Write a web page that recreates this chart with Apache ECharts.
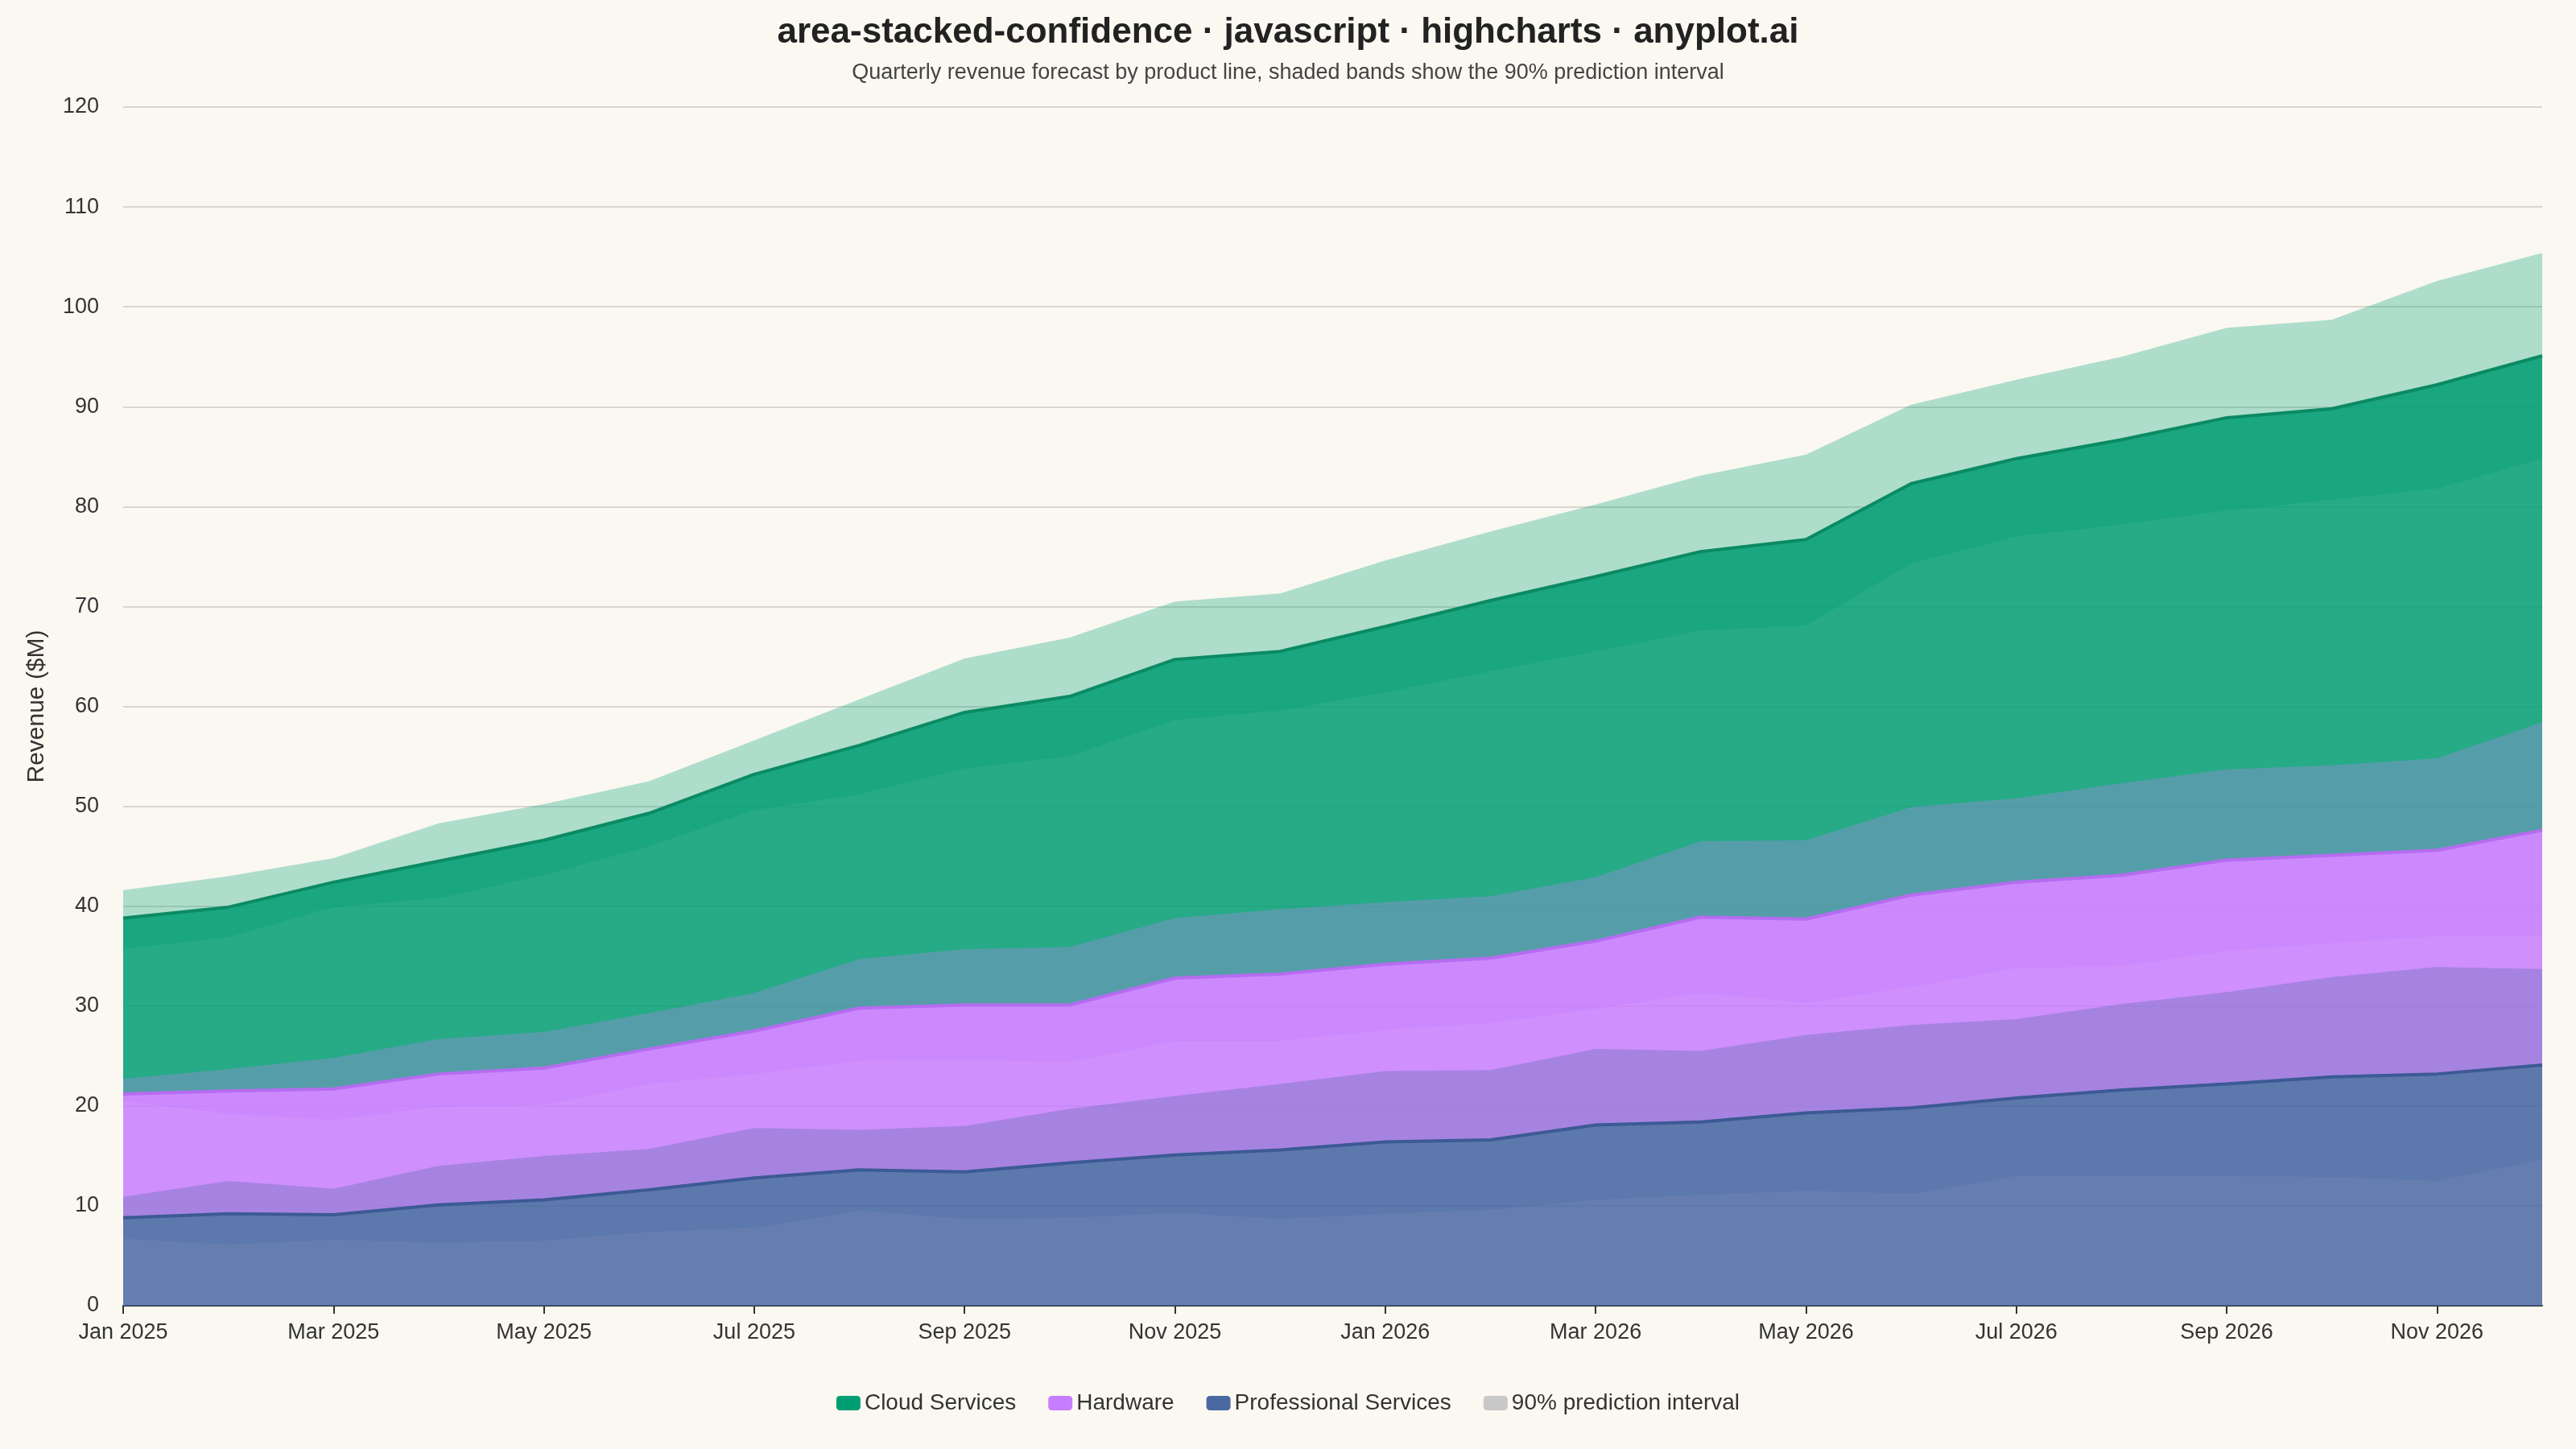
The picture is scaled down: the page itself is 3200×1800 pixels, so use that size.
<!DOCTYPE html>
<html>
<head>
<meta charset="utf-8">
<script src="https://cdn.jsdelivr.net/npm/echarts@6/dist/echarts.min.js"></script>
<style>html,body{margin:0;padding:0;background:#FAF8F1;}#chart{width:3200px;height:1800px;}</style>
</head>
<body>
<div id="chart"></div>
<script>
// months, Jan 2025 .. Dec 2026
var months = ['Jan 2025','Feb 2025','Mar 2025','Apr 2025','May 2025','Jun 2025','Jul 2025','Aug 2025','Sep 2025','Oct 2025','Nov 2025','Dec 2025',
	'Jan 2026','Feb 2026','Mar 2026','Apr 2026','May 2026','Jun 2026','Jul 2026','Aug 2026','Sep 2026','Oct 2026','Nov 2026','Dec 2026'];

// stacked tops (cumulative)
var proTop = [8.8,9.2,9.1,10.1,10.6,11.6,12.8,13.6,13.4,14.3,15.1,15.6,16.4,16.6,18.1,18.4,19.3,19.8,20.8,21.6,22.2,22.9,23.2,24.1];
var proLow = [6.7,6.1,6.6,6.3,6.5,7.4,7.8,9.5,8.7,8.8,9.3,8.7,9.2,9.6,10.6,11.1,11.5,11.2,13,13,13,12.9,12.5,14.6];
var proUp = [10.9,12.5,11.7,14,15,15.7,17.8,17.6,18,19.7,21,22.2,23.5,23.6,25.7,25.5,27.1,28.1,28.7,30.2,31.4,32.9,33.9,33.7];

var hwTop = [21.2,21.5,21.7,23.2,23.8,25.7,27.5,29.8,30.1,30.1,32.8,33.2,34.2,34.8,36.5,38.9,38.7,41.1,42.4,43.1,44.6,45.1,45.6,47.6];
var hwLow = [20.5,19.2,18.6,19.9,20.1,22.2,23.2,24.5,24.6,24.4,26.5,26.5,27.6,28.3,29.7,31.3,30.3,31.9,33.8,34,35.5,36.3,37,37.1];
var hwUp = [22.7,23.7,24.8,26.7,27.4,29.3,31.3,34.7,35.7,35.9,38.8,39.7,40.4,41,42.9,46.5,46.6,49.9,50.8,52.3,53.7,54.1,54.8,58.4];

var cloudTop = [38.8,39.9,42.4,44.5,46.6,49.3,53.2,56.1,59.4,61,64.7,65.5,68,70.6,73,75.5,76.7,82.3,84.8,86.7,88.9,89.8,92.2,95.1];
var cloudLow = [35.7,36.9,39.9,40.8,43.1,46,49.6,51.2,53.8,55,58.6,59.6,61.4,63.5,65.5,67.6,68.1,74.3,77,78.2,79.6,80.7,81.8,84.8];
var cloudUp = [41.6,43,44.8,48.3,50.2,52.5,56.6,60.7,64.8,66.9,70.5,71.3,74.6,77.5,80.2,83.1,85.2,90.2,92.7,95,97.9,98.7,102.6,105.4];

var colPro = '#4A69A3', colHw = '#C77DFF', colCloud = '#009E73';

function diff(a,b){
	var r = [];
	for(var i=0;i<a.length;i++){ r.push(+(a[i]-b[i]).toFixed(2)); }
	return r;
}

// invisible base + visible delta, stacked
function band(name,stack,low,high,color,op){
	return [
		{name:name+'_base',type:'line',stack:stack,data:low,symbol:'none',lineStyle:{width:0},areaStyle:{opacity:0},silent:true,z:2},
		{name:name,type:'line',stack:stack,data:diff(high,low),symbol:'none',lineStyle:{width:0},areaStyle:{color:color,opacity:op},silent:true,z:2}
	];
}

var series = [];
series.push({name:'Professional Services',type:'line',data:proTop,symbol:'none',
	lineStyle:{color:'#3C5A94',width:4},itemStyle:{color:colPro},areaStyle:{color:colPro,opacity:0.85},z:3});
series = series.concat(band('hw','hwArea',proTop,hwTop,colHw,0.85));
series = series.concat(band('cl','clArea',hwTop,cloudTop,colCloud,0.85));
series = series.concat(band('90% prediction interval','pb',proLow,proUp,colPro,0.3));
series = series.concat(band('hb','hb',hwLow,hwUp,colHw,0.3));
series = series.concat(band('cb','cb',cloudLow,cloudUp,colCloud,0.3));
series.push({name:'Hardware',type:'line',data:hwTop,symbol:'none',lineStyle:{color:'#B56CF0',width:4},itemStyle:{color:colHw},z:4});
series.push({name:'Cloud Services',type:'line',data:cloudTop,symbol:'none',lineStyle:{color:'#0B8A63',width:4},itemStyle:{color:colCloud},z:4});
// the interval legend entry gets its grey swatch
series[series.length-1-2-4-2+0].itemStyle = {color:'#C8C8C8'};

var myChart = echarts.init(document.getElementById('chart'));
var option = {
	backgroundColor:'#FAF8F1',
	animation:false,
	textStyle:{fontFamily:'Liberation Sans, Arial, sans-serif'},
	title:{
		text:'area-stacked-confidence · javascript · highcharts · anyplot.ai',
		subtext:'Quarterly revenue forecast by product line, shaded bands show the 90% prediction interval',
		left:'center',top:14,itemGap:14,
		textStyle:{fontSize:44,fontWeight:'bold',color:'#222'},
		subtextStyle:{fontSize:27,color:'#444'}
	},
	legend:{
		bottom:38,itemWidth:30,itemHeight:18,itemGap:40,icon:'roundRect',
		textStyle:{fontSize:28,color:'#333'},
		data:[{name:'Cloud Services',itemStyle:{color:colCloud}},{name:'Hardware',itemStyle:{color:colHw}},
			{name:'Professional Services',itemStyle:{color:colPro}},{name:'90% prediction interval',itemStyle:{color:'#C8C8C8',opacity:1}}]
	},
	grid:{left:153,right:42,top:133,bottom:178},
	xAxis:{
		type:'category',data:months,boundaryGap:false,
		axisLine:{lineStyle:{color:'#333',width:2}},
		axisTick:{interval:1,length:10,lineStyle:{color:'#333',width:2}},
		axisLabel:{interval:1,fontSize:27,color:'#333',margin:20}
	},
	yAxis:{
		type:'value',min:0,max:120,interval:10,
		name:'Revenue ($M)',nameLocation:'middle',nameGap:92,
		nameTextStyle:{fontSize:30,color:'#333'},
		axisLabel:{fontSize:27,color:'#333',margin:30},
		splitLine:{lineStyle:{color:'#D8D6CF',width:2}}
	},
	series:series
};
myChart.setOption(option);
</script>
</body>
</html>
